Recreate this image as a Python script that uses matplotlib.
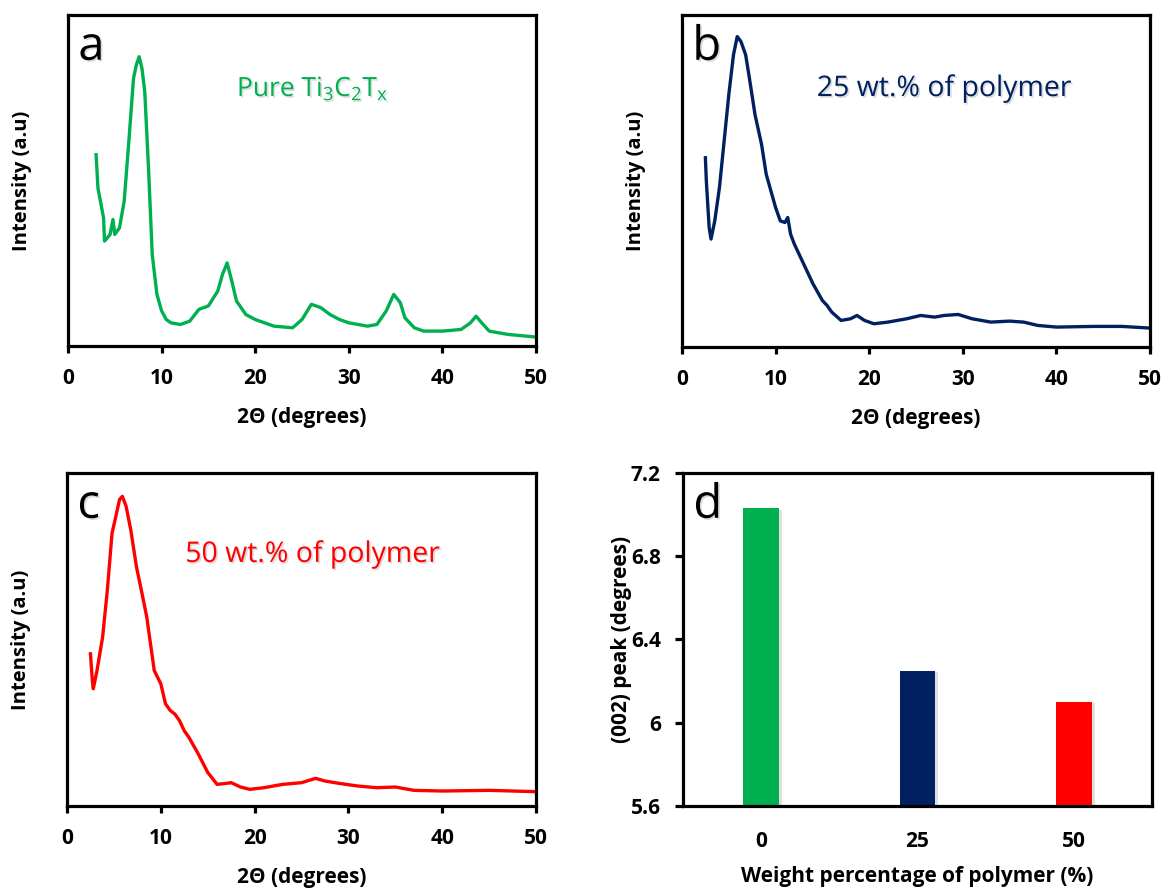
import numpy as np
import matplotlib
matplotlib.use("Agg")
import matplotlib.pyplot as plt
import matplotlib.patheffects as pe

plt.rcParams['font.family'] = ['Open Sans', 'DejaVu Sans']
plt.rcParams['mathtext.default'] = 'regular'

# XRD patterns, intensity scaled 0..1 in the plotting window
x_a = [3, 3.2, 3.8, 3.9, 4.5, 4.8, 5, 5.5, 6, 6.5, 7, 7.3, 7.6, 7.9, 8.2, 8.6, 9, 9.5, 10,
       10.5, 11, 12, 13, 14, 15, 16, 16.5, 17, 17.5, 18, 19, 20, 22, 24, 25, 26, 27, 28,
       29, 30, 32, 33, 34, 34.8, 35.5, 36, 37, 38, 40, 42, 43, 43.6, 44.2, 45, 47, 50]
y_a = [0.578, 0.477, 0.387, 0.317, 0.337, 0.382, 0.337, 0.357, 0.437, 0.618, 0.809, 0.849,
       0.874, 0.839, 0.769, 0.538, 0.276, 0.156, 0.106, 0.080, 0.070, 0.065, 0.075, 0.111,
       0.121, 0.166, 0.216, 0.251, 0.196, 0.136, 0.095, 0.080, 0.060, 0.055, 0.080, 0.126,
       0.116, 0.095, 0.080, 0.070, 0.060, 0.065, 0.106, 0.156, 0.131, 0.085, 0.055, 0.045,
       0.045, 0.050, 0.070, 0.090, 0.070, 0.045, 0.035, 0.027]

x_b = [2.5, 2.6, 2.9, 3.1, 3.5, 4, 4.5, 5, 5.5, 5.9, 6.3, 6.8, 7.2, 7.8, 8.5, 9, 9.5, 10,
       10.5, 11, 11.3, 11.6, 12, 13, 14, 15, 15.5, 16, 17, 18, 18.7, 19.5, 20.5, 22, 24,
       25.5, 27, 28, 29.5, 31, 33, 35, 36.5, 38, 40, 44, 47, 50]
y_b = [0.570, 0.500, 0.360, 0.325, 0.380, 0.480, 0.620, 0.760, 0.880, 0.935, 0.920, 0.880,
       0.810, 0.700, 0.610, 0.520, 0.470, 0.420, 0.380, 0.375, 0.390, 0.340, 0.310, 0.250,
       0.190, 0.140, 0.125, 0.105, 0.080, 0.085, 0.095, 0.080, 0.070, 0.075, 0.085, 0.095,
       0.090, 0.095, 0.098, 0.085, 0.075, 0.078, 0.075, 0.065, 0.060, 0.062, 0.062, 0.057]

x_c = [2.5, 2.7, 2.8, 3.2, 3.8, 4.3, 4.8, 5.2, 5.6, 5.9, 6.3, 6.8, 7.4, 8, 8.5, 9.3, 10,
       10.5, 11, 11.5, 12, 12.5, 13, 14, 15, 16, 17, 17.5, 18.5, 19.5, 21, 23, 25, 26.5,
       27.5, 29, 31, 33, 35, 37, 40, 45, 50]
y_c = [0.457, 0.377, 0.352, 0.407, 0.508, 0.648, 0.819, 0.869, 0.920, 0.930, 0.900, 0.829,
       0.719, 0.638, 0.568, 0.407, 0.367, 0.307, 0.287, 0.276, 0.256, 0.226, 0.206, 0.156,
       0.101, 0.065, 0.068, 0.070, 0.057, 0.050, 0.055, 0.065, 0.070, 0.083, 0.075, 0.068,
       0.060, 0.055, 0.057, 0.047, 0.045, 0.047, 0.043]

# (002) peak position vs polymer loading
wt_labels = ['0', '25', '50']
peak_pos = [7.03, 6.25, 6.10]

green = '#00B050'
navy = '#002060'
red = '#FF0000'
W, H = 1168, 892
shadow = [pe.withSimplePatchShadow(offset=(1.2, -1.2), shadow_rgbFace='0.6', alpha=0.35)]


def make_ax(fig, left, top, right, bottom):
    return fig.add_axes([left / W, 1 - bottom / H, (right - left) / W, (bottom - top) / H])


def style(ax):
    for s in ax.spines.values():
        s.set_linewidth(2.3)
    ax.tick_params(width=2.3, length=5, labelsize=15, pad=11)
    for t in ax.get_xticklabels() + ax.get_yticklabels():
        t.set_fontweight('bold')


def xrd(ax, x, y, color, letter, label, lx, ly, fs):
    ax.plot(x, y, color=color, lw=2.4)
    ax.set_xlim(0, 50)
    ax.set_ylim(0, 1)
    ax.set_xticks(range(0, 51, 10))
    ax.set_yticks([])
    style(ax)
    ax.set_xlabel('2Θ (degrees)', fontsize=15, fontweight='bold', labelpad=13)
    ax.set_ylabel('Intensity (a.u)', fontsize=14.5, fontweight='bold', labelpad=26)
    ax.text(0.022, 0.975, letter, transform=ax.transAxes, fontsize=34, va='top',
            path_effects=shadow)
    ax.text(lx, ly, label, transform=ax.transAxes, fontsize=fs, color=color, va='center',
            path_effects=shadow)


fig = plt.figure(figsize=(W / 100, H / 100), dpi=100)

ax_a = make_ax(fig, 68, 15, 536, 346)
xrd(ax_a, x_a, y_a, green, 'a', 'Pure Ti$_3$C$_2$T$_x$', 0.361, 0.776, 19)

ax_b = make_ax(fig, 682, 15, 1150, 347)
xrd(ax_b, x_b, y_b, navy, 'b', '25 wt.% of polymer', 0.288, 0.777, 20.5)

ax_c = make_ax(fig, 67, 473, 536, 806)
xrd(ax_c, x_c, y_c, red, 'c', '50 wt.% of polymer', 0.252, 0.754, 20.5)

ax_d = make_ax(fig, 683, 473, 1152, 806)
bars = ax_d.bar(range(len(peak_pos)), peak_pos, width=0.23, color=[green, navy, red])
for b in bars:
    b.set_path_effects([pe.withSimplePatchShadow(offset=(2, -1), shadow_rgbFace='0.5', alpha=0.25)])
ax_d.set_xlim(-0.5, 2.5)
ax_d.set_ylim(5.6, 7.2)
ax_d.set_yticks([5.6, 6.0, 6.4, 6.8, 7.2])
ax_d.set_yticklabels(['5.6', '6', '6.4', '6.8', '7.2'])
ax_d.set_xticks(range(len(wt_labels)))
ax_d.set_xticklabels(wt_labels)
style(ax_d)
ax_d.tick_params(axis='y', length=6, pad=10)
ax_d.tick_params(axis='x', length=0, pad=18)
ax_d.set_xlabel('Weight percentage of polymer (%)', fontsize=15, fontweight='bold', labelpad=10)
ax_d.set_ylabel('(002) peak (degrees)', fontsize=15, fontweight='bold', labelpad=-1)
ax_d.text(0.022, 0.975, 'd', transform=ax_d.transAxes, fontsize=34, va='top',
          path_effects=shadow)

fig.savefig('out.png', dpi=100)
